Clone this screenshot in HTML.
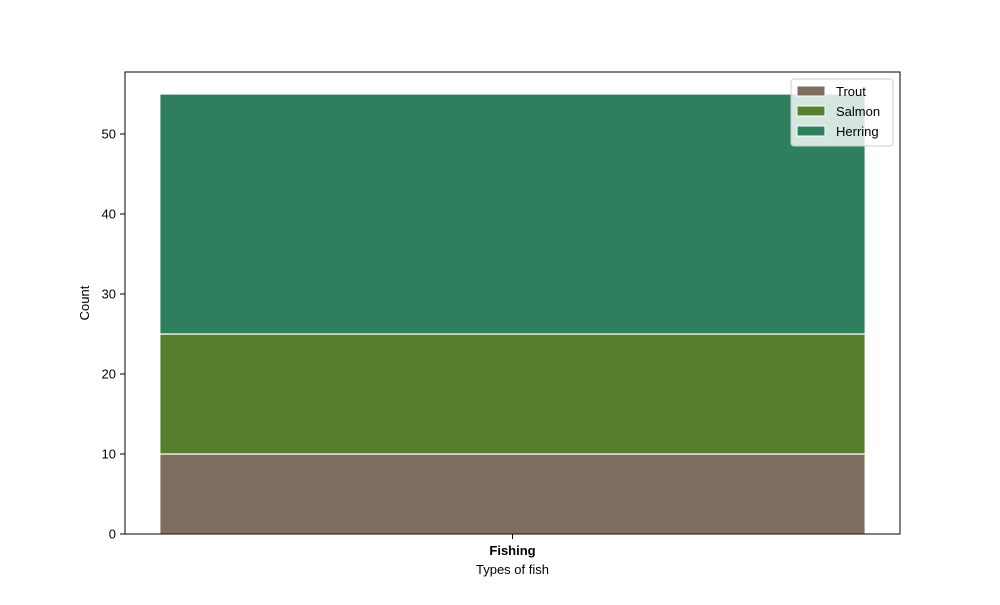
<!DOCTYPE html>
<html><head><meta charset="utf-8"><style>
body{margin:0;background:#fff;}
svg{font-family:"Liberation Sans","DejaVu Sans",sans-serif;}
</style></head><body>
<svg id="c" width="1000" height="600" xmlns="http://www.w3.org/2000/svg">
<rect width="1000" height="600" fill="#fff"/>
<g id="bars"></g>
<g id="axes"></g>
</svg>
<script>
const categories = ["Fishing"];
const seriesNames = ["Trout","Salmon","Herring"];
const trout = [10];
const salmon = [15];
const herring = [30];
const yTicks = [0,10,20,30,40,50];
const colors = ["#7f6d5f","#557f2d","#2d7f5e"];

const L=125,R=900,T=72,B=534;
const yMax=57.75;
const y=v=>B-(v/yMax)*(B-T);
const xMin=-0.4395,xMax=0.4395;
const x=v=>L+(v-xMin)/(xMax-xMin)*(R-L);
const NS="http://www.w3.org/2000/svg";
function mk(t,a,p){const e=document.createElementNS(NS,t);for(const k in a)e.setAttribute(k,a[k]);p.appendChild(e);return e;}
const bars=document.getElementById('bars'),axes=document.getElementById('axes');
const series=[trout,salmon,herring];
categories.forEach((c,i)=>{
  let base=0;
  series.forEach((s,j)=>{
    const r=mk('rect',{x:x(i-0.4),y:y(base+s[i]),width:x(i+0.4)-x(i-0.4),height:y(base)-y(base+s[i]),fill:colors[j],stroke:'#fff','stroke-width':1.2},bars);
    
    
    base+=s[i];
  });
  mk('line',{x1:x(i),x2:x(i),y1:B,y2:B+5,stroke:'#000'},axes);
  const t=mk('text',{x:x(i),y:555,'text-anchor':'middle','font-size':13,'font-weight':'bold'},axes);
  t.textContent=c;
  
  
});
yTicks.forEach(v=>{
  mk('line',{x1:L-5,x2:L,y1:y(v),y2:y(v),stroke:'#000'},axes);
  const t=mk('text',{x:L-9,y:y(v)+4.5,'text-anchor':'end','font-size':13},axes);
  t.textContent=v;
  
  
});
const fr=mk('rect',{x:L,y:T,width:R-L,height:B-T,fill:'none',stroke:'#000','stroke-width':1},axes);


const xt=mk('text',{x:512.5,y:574,'text-anchor':'middle','font-size':13},axes);
xt.textContent='Types of fish';


const yt=mk('text',{x:89,y:303,'text-anchor':'middle','font-size':13,transform:'rotate(-90 89 303)'},axes);
yt.textContent='Count';


const lg=mk('g',{},axes);


mk('rect',{x:791,y:79,width:102,height:67,rx:3,fill:'#fff','fill-opacity':0.8,stroke:'#ccc'},lg);
seriesNames.forEach((n,j)=>{
  const g=mk('g',{},lg);
  
  
  mk('rect',{x:797,y:86+j*20,width:28,height:10,fill:colors[j],stroke:'#fff'},g);
  const t=mk('text',{x:836,y:96+j*20,'font-size':13},g);
  t.textContent=n;
});
</script>
</body></html>
